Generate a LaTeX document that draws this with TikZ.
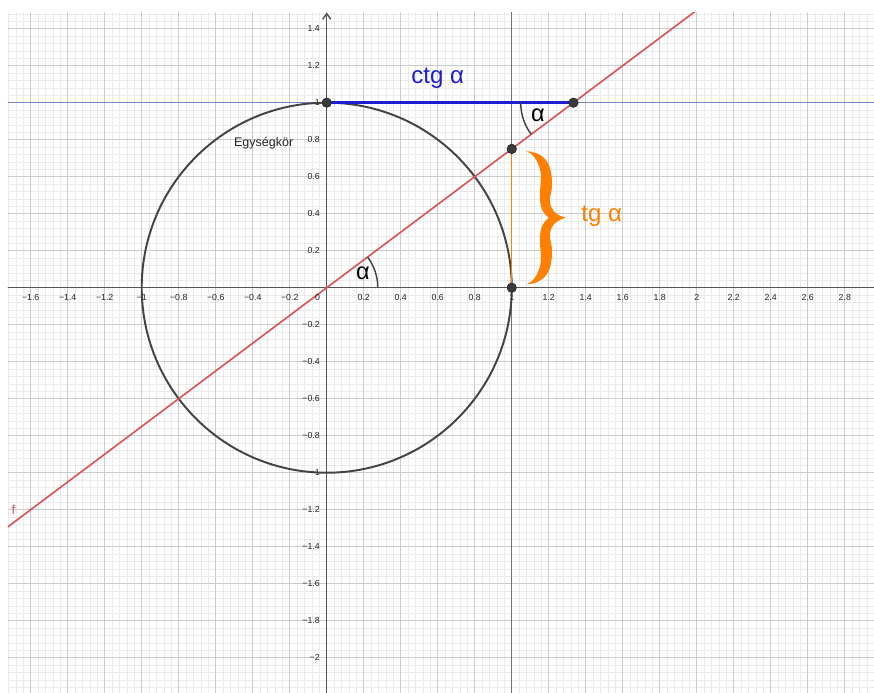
\documentclass[tikz,border=0pt]{standalone}
\usepackage{fontspec}
\setmainfont{Liberation Sans}
\usetikzlibrary{arrows.meta}
\definecolor{gridminor}{RGB}{234,234,234}
\definecolor{gridmajor}{RGB}{204,204,204}
\definecolor{axisgray}{RGB}{85,85,85}
\definecolor{circlegray}{RGB}{68,68,68}
\definecolor{fred}{RGB}{214,86,86}
\definecolor{ctgblue}{RGB}{30,30,208}
\definecolor{liteblue}{RGB}{122,132,200}
\definecolor{tgorange}{RGB}{255,128,0}
\definecolor{ptgray}{RGB}{58,58,58}
\begin{document}
\begin{tikzpicture}[x=4cm,y=4cm,
    ticklabel/.style={font=\fontsize{5.4}{6}\selectfont,text=black!85,inner sep=0pt},
    pt/.style={circle,fill=ptgray,draw=black!85,line width=0.4pt,inner sep=0pt,minimum size=5.8pt},
    anglearc/.style={circlegray,line width=0.9pt},
    alphalabel/.style={font=\fontsize{14.5}{16}\selectfont}]
    \useasboundingbox (-1.766,-2.1905) rectangle (2.958,1.555);
    \fill[white] (-1.766,-2.1905) rectangle (2.958,1.555);
    \coordinate (O) at (0,0);
    \coordinate (N) at (0,1);
    \coordinate (E) at (1,0);
    \coordinate (T) at (1,0.75);
    \coordinate (C) at (4/3,1);
    \coordinate (B) at (1.081,0.378);
    \begin{scope}
        \clip (-1.723,-2.1905) rectangle (2.958,1.490);
        \draw[gridminor,line width=0.35pt,step=0.04] (-1.8,-2.24) grid (3,1.52);
        \draw[gridmajor,line width=0.45pt,step=0.2] (-1.8,-2.24) grid (3,1.52);
        \draw[liteblue,line width=0.7pt] (-1.8,1)--(3,1);
        \draw[black!55,line width=0.6pt] (1,-2.3)--(1,1.6);
        \draw[axisgray,line width=0.9pt] (-1.8,0)--(3,0);
        \draw[axisgray,line width=0.9pt,-{Straight Barb[length=3.5pt,width=5pt]}] (0,-2.3)--(0,1.488);
        \draw[circlegray,line width=1.2pt] (O) circle[radius=1];
        \draw[fred,line width=1pt] (-1.8,-1.35)--(2.1,1.575);
    \end{scope}
    % tick labels
    \foreach \x/\t in {-1.6/−1.6,-1.4/−1.4,-1.2/−1.2,-1/−1,-0.8/−0.8,-0.6/−0.6,-0.4/−0.4,-0.2/−0.2,
        0.2/0.2,0.4/0.4,0.6/0.6,0.8/0.8,1/1,1.2/1.2,1.4/1.4,1.6/1.6,1.8/1.8,2/2,2.2/2.2,2.4/2.4,2.6/2.6,2.8/2.8}
        \node[ticklabel,anchor=north] (x\t) at (\x,-0.034) {\t};
    \foreach \y/\t in {1.4/1.4,1.2/1.2,1/1,0.8/0.8,0.6/0.6,0.4/0.4,0.2/0.2,-0.2/−0.2,-0.4/−0.4,-0.6/−0.6,
        -0.8/−0.8,-1/−1,-1.2/−1.2,-1.4/−1.4,-1.6/−1.6,-1.8/−1.8,-2/−2}
        \node[ticklabel,anchor=east] (y\t) at (-0.036,\y) {\t};
    \node[ticklabel,anchor=north east] (zero) at (-0.035,-0.034) {0};
    % ctg and tg
    \draw[ctgblue,line width=2.2pt] (N)--(C);
    \draw[tgorange,line width=0.9pt] (E)--(T);
    \draw[anglearc] (O) ++(0:0.276) arc[start angle=0,end angle=36.87,radius=0.276];
    \draw[anglearc] (C) ++(180:0.285) arc[start angle=180,end angle=216.87,radius=0.285];
    % curly brace, two mirrored halves
    \foreach \s in {1,-1}
        \fill[tgorange,shift={(B)},yscale=\s] (0,0.36) .. controls (0.07,0.355) and (0.11,0.32) .. (0.125,0.27)
            .. controls (0.14,0.22) and (0.14,0.16) .. (0.128,0.12)
            .. controls (0.118,0.08) and (0.13,0.02) .. (0.211,0) -- (0.12,0)
            .. controls (0.09,0.02) and (0.075,0.05) .. (0.072,0.1)
            .. controls (0.068,0.16) and (0.085,0.22) .. (0.072,0.26)
            .. controls (0.06,0.31) and (0.035,0.345) .. (0,0.36) -- cycle;
    \node[pt] (pN) at (N) {};
    \node[pt] (pC) at (C) {};
    \node[pt] (pT) at (T) {};
    \node[pt] (pE) at (E) {};
    \node[alphalabel] (a1) at (0.196,0.08) {α};
    \node[alphalabel] (a2) at (1.142,0.934) {α};
    \node[text=ctgblue,font=\fontsize{14.8}{16}\selectfont] (ctg) at (0.6,1.134) {ctg α};
    \node[text=tgorange,font=\fontsize{14.8}{16}\selectfont] (tg) at (1.486,0.384) {tg α};
    \node[font=\fontsize{7.7}{9}\selectfont,text=black!85] (kor) at (-0.341,0.782) {Egységkör};
    \node[text=fred,font=\fontsize{8}{9}\selectfont] (f) at (-1.694,-1.199) {f};
\end{tikzpicture}
\end{document}
